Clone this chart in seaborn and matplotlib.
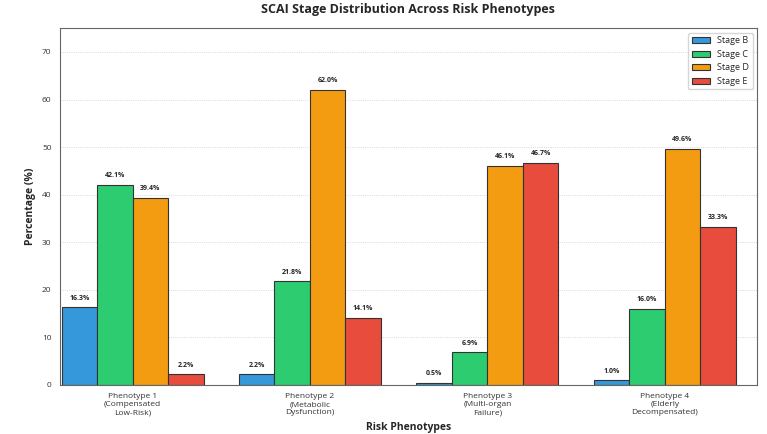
import pandas as pd
import numpy as np
import matplotlib.pyplot as plt
import seaborn as sns

sns.set_style('white')
plt.rcParams['font.family'] = ['Open Sans', 'DejaVu Sans']

phenotypes = ['Phenotype 1\n(Compensated\nLow-Risk)', 'Phenotype 2\n(Metabolic\nDysfunction)',
              'Phenotype 3\n(Multi-organ\nFailure)', 'Phenotype 4\n(Elderly\nDecompensated)']
stages = ['Stage B', 'Stage C', 'Stage D', 'Stage E']
stage_b = [16.3, 2.2, 0.5, 1.0]
stage_c = [42.1, 21.8, 6.9, 16.0]
stage_d = [39.4, 62.0, 46.1, 49.6]
stage_e = [2.2, 14.1, 46.7, 33.3]
colors = ['#3498db', '#2ecc71', '#f39c12', '#e74c3c']

rows = []
for stage, vals in zip(stages, [stage_b, stage_c, stage_d, stage_e]):
    for p, v in zip(phenotypes, vals):
        rows.append({'Phenotype': p, 'Stage': stage, 'Percentage': v})
df = pd.DataFrame(rows)

fig, ax = plt.subplots(figsize=(7.67, 4.34), dpi=100)
sns.barplot(data=df, x='Phenotype', y='Percentage', hue='Stage', palette=colors,
            edgecolor='#333333', linewidth=0.8, saturation=1, width=0.8, ax=ax)

# value labels on top of bars
for c in ax.containers:
    ax.bar_label(c, fmt='%.1f%%', fontsize=5, fontweight='bold', padding=4)

ax.set_ylim(0, 75)
ax.set_xlim(-0.41, 3.52)
ax.yaxis.grid(True, linestyle=':', color='#cccccc', linewidth=0.6)
ax.set_axisbelow(True)
ax.set_title('SCAI Stage Distribution Across Risk Phenotypes', fontsize=9, fontweight='bold', pad=11)
ax.set_xlabel('Risk Phenotypes', fontsize=7.5, fontweight='bold')
ax.set_ylabel('Percentage (%)', fontsize=7.5, fontweight='bold')
ax.tick_params(axis='both', labelsize=6, length=2.5, width=0.6, color='#555555', labelcolor='#333333')
for s in ax.spines.values():
    s.set_color('#666666')
    s.set_linewidth(0.8)
ax.legend(loc='upper right', fontsize=6.5, frameon=True, title=None)

plt.subplots_adjust(left=0.078, right=0.987, top=0.935, bottom=0.113)
plt.savefig('out.png', dpi=100)
